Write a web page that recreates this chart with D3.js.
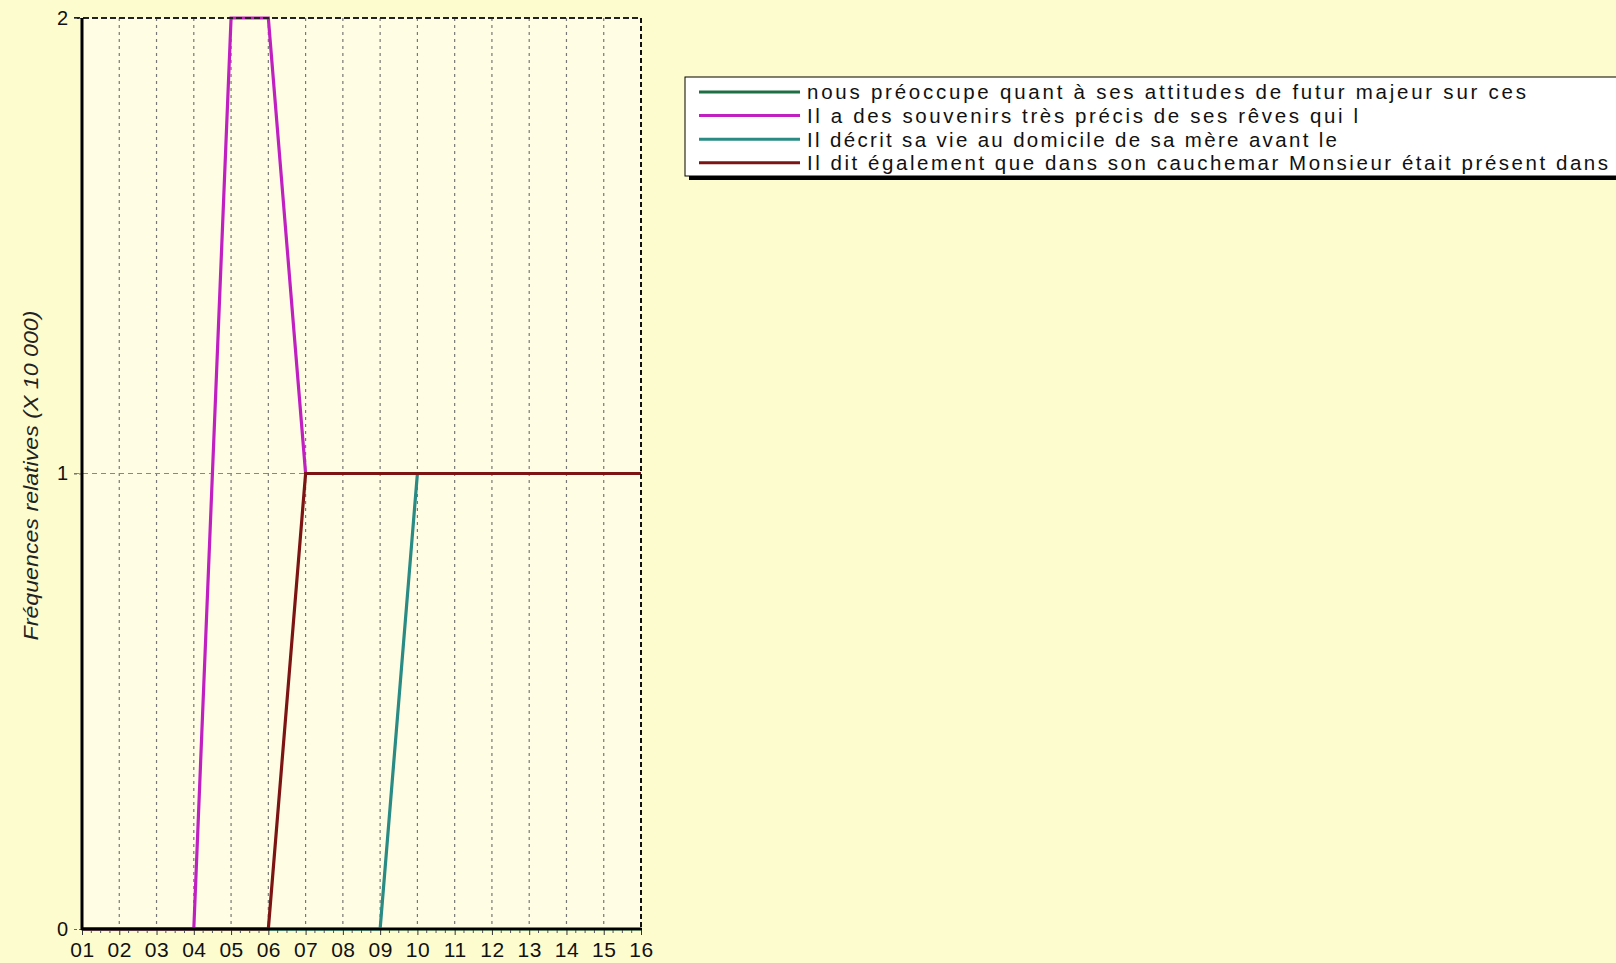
<!DOCTYPE html>
<html><head><meta charset="utf-8">
<script src="https://cdn.jsdelivr.net/npm/d3@7"></script>
<style>html,body{margin:0;padding:0;background:#fdfccf;overflow:hidden}svg{display:block}</style>
</head><body>
<script>
const categories = ["01","02","03","04","05","06","07","08","09","10","11","12","13","14","15","16"];
const seriesNames = [
  "nous préoccupe quant à ses attitudes de futur majeur sur ces",
  "Il a des souvenirs très précis de ses rêves qui l",
  "Il décrit sa vie au domicile de sa mère avant le",
  "Il dit également que dans son cauchemar Monsieur était présent dans"
];
const seriesColors = ["#1f6f45", "#c020c0", "#2a8a84", "#7c1414"];
const greenValues   = [0,0,0,0,0,0,0,0,0,0,0,0,0,0,0,0];
const magentaValues = [0,0,0,0,2,2,1,1,1,1,1,1,1,1,1,1];
const tealValues    = [0,0,0,0,0,0,0,0,0,1,1,1,1,1,1,1];
const redValues     = [0,0,0,0,0,0,1,1,1,1,1,1,1,1,1,1];
const yTicks = [0, 1, 2];
const yLabel = "Fréquences relatives (X 10 000)";

const allSeries = [greenValues, magentaValues, tealValues, redValues];
const W = 1616, H = 963;
const L = 82, R = 641, T = 18, B = 929;

const svg = d3.select("body").append("svg").attr("width", W).attr("height", H);
svg.append("rect").attr("width", W).attr("height", H).attr("fill", "#fdfccf");

const x = d3.scalePoint().domain(categories).range([L, R]);
const y = d3.scaleLinear().domain([0, 2]).range([B, T]);

svg.append("rect").attr("x", L).attr("y", T).attr("width", R - L).attr("height", B - T).attr("fill", "#fffee4");

// vertical grid
svg.append("g").selectAll("line").data(categories.slice(1, -1)).join("line")
  .attr("x1", d => x(d)).attr("x2", d => x(d)).attr("y1", T).attr("y2", B)
  .attr("stroke", "#777").attr("stroke-width", 1.2).attr("stroke-dasharray", "3,4");
// horizontal grid
svg.append("g").selectAll("line").data(yTicks.filter(v => v > 0 && v < 2)).join("line")
  .attr("x1", L - 8).attr("x2", R).attr("y1", d => y(d)).attr("y2", d => y(d))
  .attr("stroke", "#888").attr("stroke-width", 1).attr("stroke-dasharray", "5,4");

// series
const line = d3.line().x((d, i) => x(categories[i])).y(d => y(d));
allSeries.forEach((vals, k) => {
  svg.append("path").datum(vals).attr("d", line).attr("fill", "none")
    .attr("stroke", seriesColors[k]).attr("stroke-width", 3.2).attr("stroke-linejoin", "miter");
});

// top & right borders dashed (drawn over the series)
svg.append("line").attr("x1", L - 8).attr("x2", R).attr("y1", T).attr("y2", T)
  .attr("stroke", "#222").attr("stroke-width", 1.8).attr("stroke-dasharray", "6,3");
svg.append("line").attr("x1", R).attr("x2", R).attr("y1", T).attr("y2", B)
  .attr("stroke", "#111").attr("stroke-width", 2).attr("stroke-dasharray", "5,3");

// axes
const fontFam = "'Liberation Sans', Arial, sans-serif";
const yAxis = svg.append("g").attr("transform", `translate(${L},0)`)
  .call(d3.axisLeft(y).tickValues(yTicks).tickFormat(d3.format("d")).tickSize(8).tickPadding(6));
yAxis.select(".domain").remove();
yAxis.selectAll(".tick line").attr("stroke", "#666").attr("stroke-dasharray", "3,2");
yAxis.selectAll("text").attr("font-family", fontFam).attr("font-size", 20).attr("fill", "#111");
svg.append("line").attr("x1", L).attr("x2", L).attr("y1", T).attr("y2", B + 1)
  .attr("stroke", "#000").attr("stroke-width", 3);

// minor ticks on x axis
const minor = [];
for (let i = 0; i < categories.length - 1; i++) {
  for (let j = 1; j < 4; j++) minor.push(x(categories[i]) + (x(categories[i + 1]) - x(categories[i])) * j / 4);
}
svg.append("g").selectAll("line").data(minor).join("line")
  .attr("x1", d => d).attr("x2", d => d).attr("y1", B).attr("y2", B + 4)
  .attr("stroke", "#555").attr("stroke-width", 1);
const xAxis = svg.append("g").attr("transform", `translate(0,${B})`)
  .call(d3.axisBottom(x).tickSize(6).tickPadding(5));
xAxis.select(".domain").remove();
xAxis.selectAll(".tick line").attr("stroke", "#333");
xAxis.selectAll("text").attr("font-family", fontFam).attr("font-size", 21).attr("fill", "#111")
  .attr("letter-spacing", "0.5px").attr("dy", "0.8em");
svg.append("line").attr("x1", L - 1).attr("x2", R + 1).attr("y1", B).attr("y2", B)
  .attr("stroke", "#000").attr("stroke-width", 2.5);

// y label
svg.append("text").attr("transform", `translate(38,${(T + B) / 2 + 2}) rotate(-90)`)
  .attr("text-anchor", "middle").attr("font-family", fontFam).attr("font-style", "italic")
  .attr("font-size", 20).attr("fill", "#222").attr("textLength", 330).attr("lengthAdjust", "spacingAndGlyphs")
  .text(yLabel);

// legend
const lg = svg.append("g");
const lx = 685, ly = 77, lw = 940, lh = 99;
lg.append("rect").attr("x", lx + 4).attr("y", ly + 4).attr("width", lw).attr("height", lh).attr("fill", "#000");
lg.append("rect").attr("x", lx).attr("y", ly).attr("width", lw).attr("height", lh)
  .attr("fill", "#fff").attr("stroke", "#000").attr("stroke-width", 1);
const textWidths = [719, 551, 530, 801];
seriesNames.forEach((name, k) => {
  const yy = 92 + k * 23.6;
  lg.append("line").attr("x1", 699).attr("x2", 800).attr("y1", yy).attr("y2", yy)
    .attr("stroke", seriesColors[k]).attr("stroke-width", 3);
  lg.append("text").attr("x", 807).attr("y", yy).attr("dy", "0.36em")
    .attr("font-family", fontFam).attr("font-size", 20.5).attr("fill", "#111")
    .attr("textLength", textWidths[k]).attr("lengthAdjust", "spacing").text(name);
});
</script>
</body></html>
